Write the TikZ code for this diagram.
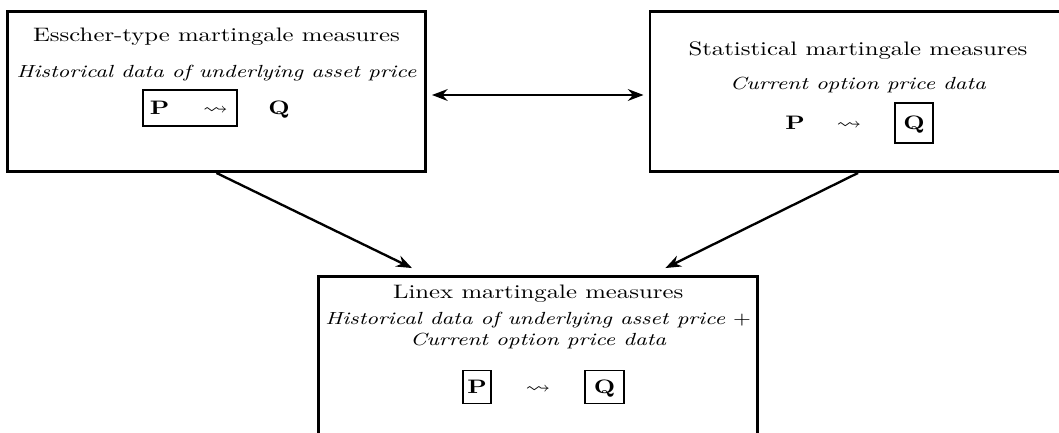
\documentclass[tikz,border=0pt]{standalone}
\usepackage{amssymb}
\usetikzlibrary{arrows.meta,calc}
\newcommand\sx[1]{\scalebox{1.27}[1]{#1}}
\begin{document}
\begin{tikzpicture}[x=0.513pt,y=-0.513pt,
  bigbox/.style={draw, line width=1.5pt, inner sep=0pt},
  smallbox/.style={draw, line width=1pt, inner sep=0pt},
  ttl/.style={font=\fontsize{10}{12}\selectfont, inner sep=0pt, anchor=base},
  sub/.style={font=\fontsize{9}{11}\selectfont\itshape, inner sep=0pt, anchor=base},
  sym/.style={font=\fontsize{10}{12}\selectfont, inner sep=0pt, anchor=base},
  arr/.style={line width=1.2pt, -{Stealth[length=8pt,width=6pt]}},
  darr/.style={line width=1.4pt, {Stealth[length=8pt,width=6pt]}-{Stealth[length=8pt,width=6pt]}},
]
\clip (0,0) rectangle (1059,432);
% main boxes
\node[bigbox, minimum width=418*0.513pt, minimum height=160*0.513pt] (L) at (216.5,91.5) {};
\node[bigbox, minimum width=416*0.513pt, minimum height=160*0.513pt] (R) at (858,91.5) {};
\node[bigbox, minimum width=439.5*0.513pt, minimum height=203.5*0.513pt] (B) at (538.2,378.25) {};
% left box
\node[ttl] (Lt) at (216.5,41.6) {\sx{Esscher-type martingale measures}};
\node[sub] (Ls) at (216.5,77) {\sx{Historical data of underlying asset price}};
\node[smallbox, minimum width=94*0.513pt, minimum height=36*0.513pt] (Lbox) at (190,108) {};
\node[sym] (LP) at (159.5,114.7) {\sx{$\mathbf{P}$}};
\node[sym] (Lw) at (215.5,114.7) {\sx{$\leadsto$}};
\node[sym] (LQ) at (279,114.7) {\sx{$\mathbf{Q}$}};
% right box
\node[ttl] (Rt) at (858,55) {\sx{Statistical martingale measures}};
\node[sub] (Rs) at (858,89) {\sx{Current option price data}};
\node[sym] (RP) at (795,129.7) {\sx{$\mathbf{P}$}};
\node[sym] (Rw) at (849,129.7) {\sx{$\leadsto$}};
\node[smallbox, minimum width=38*0.513pt, minimum height=40*0.513pt] (Rbox) at (914,123) {};
\node[sym] (RQ) at (914,129.7) {\sx{$\mathbf{Q}$}};
% bottom box
\node[ttl] (Bt) at (538.2,298.3) {\sx{Linex martingale measures}};
\node[sub] (Bs1) at (538.2,324) {\sx{Historical data of underlying asset price $+$}};
\node[sub] (Bs2) at (538.2,345) {\sx{Current option price data}};
\node[smallbox, minimum width=28*0.513pt, minimum height=33*0.513pt] (BPbox) at (477,387) {};
\node[sym] (BP) at (477,393.5) {\sx{$\mathbf{P}$}};
\node[sym] (Bw) at (538,393.5) {\sx{$\leadsto$}};
\node[smallbox, minimum width=39*0.513pt, minimum height=33*0.513pt] (BQbox) at (604.5,387) {};
\node[sym] (BQ) at (604.5,393.5) {\sx{$\mathbf{Q}$}};
% connectors
\draw[darr] ([shift={(5,3.5)}]L.east) -- ([shift={(-5,3.5)}]R.west);
\draw[arr] (L.south) -- ([shift={(95,-7)}]B.north west);
\draw[arr] (R.south) -- ([shift={(-94,-7)}]B.north east);
\end{tikzpicture}
\end{document}
